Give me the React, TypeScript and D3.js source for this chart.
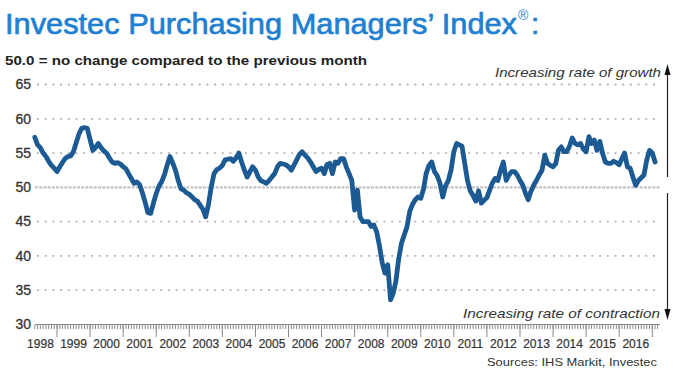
import React from 'react';
import * as d3 from 'd3';

// Monthly PMI readings (May 1998 – Feb 2017)
const pmi1998 = [57.3, 56.2, 55.8, 55.0, 54.5, 53.8, 53.2, 52.8];
const pmi1999 = [52.3, 53.0, 53.6, 54.2, 54.5, 54.6, 55.2, 56.5, 57.8, 58.6, 58.7, 58.6];
const pmi2000 = [57.0, 55.4, 55.8, 56.4, 55.8, 55.3, 55.0, 54.3, 53.7, 53.5, 53.6, 53.4];
const pmi2001 = [53.0, 52.7, 52.0, 51.3, 50.6, 50.8, 50.4, 49.2, 47.8, 46.3, 46.2, 47.7];
const pmi2002 = [49.1, 50.2, 50.8, 51.8, 53.2, 54.5, 53.6, 52.5, 51.0, 49.8, 49.6, 49.2];
const pmi2003 = [49.0, 48.6, 48.2, 48.0, 47.4, 46.8, 45.7, 47.5, 50.1, 52.0, 52.6, 52.8];
const pmi2004 = [53.2, 54.0, 54.1, 54.2, 53.8, 54.3, 55.0, 53.7, 52.5, 51.5, 52.3, 53.0];
const pmi2005 = [52.5, 51.5, 51.0, 50.8, 50.6, 51.0, 51.5, 52.0, 53.0, 53.5, 53.4, 53.3];
const pmi2006 = [53.0, 52.5, 53.2, 54.0, 54.8, 55.2, 54.7, 54.3, 53.7, 53.0, 52.3, 52.6];
const pmi2007 = [52.8, 52.0, 53.3, 53.5, 52.0, 53.7, 53.5, 54.2, 54.2, 53.0, 52.0, 51.0];
const pmi2008 = [46.7, 49.6, 45.7, 45.0, 45.0, 45.0, 44.3, 44.5, 43.5, 41.5, 39.0, 37.5];
const pmi2009 = [38.7, 33.6, 34.5, 36.3, 39.5, 41.8, 43.0, 44.2, 46.5, 47.5, 48.2, 48.6];
const pmi2010 = [48.4, 49.8, 52.0, 53.2, 53.7, 52.3, 51.7, 50.6, 48.6, 50.2, 51.0, 52.5];
const pmi2011 = [55.2, 56.4, 56.2, 56.0, 53.5, 51.0, 49.5, 48.8, 48.0, 49.5, 47.7, 48.1];
const pmi2012 = [48.5, 49.6, 50.6, 51.3, 51.0, 52.5, 53.7, 51.0, 51.8, 52.3, 52.3, 51.8];
const pmi2013 = [51.0, 50.3, 49.2, 48.2, 49.4, 50.3, 51.0, 51.8, 52.5, 54.7, 53.5, 53.2];
const pmi2014 = [53.0, 53.5, 55.4, 55.9, 55.2, 55.2, 56.0, 57.2, 56.4, 56.2, 56.4, 55.6];
const pmi2015 = [55.2, 57.4, 56.4, 56.9, 55.4, 56.7, 55.0, 53.7, 53.5, 53.5, 53.8, 53.6];
const pmi2016 = [53.3, 54.2, 55.0, 53.0, 52.8, 51.5, 50.3, 51.0, 51.4, 51.8, 54.0, 55.4];
const pmi2017 = [55.0, 53.7];

const seriesByYear = [
  pmi1998, pmi1999, pmi2000, pmi2001, pmi2002, pmi2003, pmi2004, pmi2005, pmi2006,
  pmi2007, pmi2008, pmi2009, pmi2010, pmi2011, pmi2012, pmi2013, pmi2014, pmi2015,
  pmi2016, pmi2017,
];

const yTicks = [30, 35, 40, 45, 50, 55, 60, 65];
const yearLabels = [
  '1998', '1999', '2000', '2001', '2002', '2003', '2004', '2005', '2006', '2007',
  '2008', '2009', '2010', '2011', '2012', '2013', '2014', '2015', '2016',
];

export default function App() {
  const firstMonth = new Date(1998, 4, 1);
  const values = seriesByYear.flat();
  const data = values.map((v, i) => ({ date: d3.timeMonth.offset(firstMonth, i), v }));

  const x = d3.scaleTime()
    .domain([new Date(1999, 0, 1), new Date(2017, 0, 1)])
    .range([57, 652.3]);
  const y = d3.scaleLinear().domain([30, 65]).range([324.5, 84.5]);

  const line = d3.line<{ date: Date; v: number }>()
    .x(d => x(d.date))
    .y(d => y(d.v));

  const plotLeft = 35;
  const plotRight = 660;
  const axisY = y(30);

  const monthTicks = d3.timeMonth.range(new Date(1998, 4, 1), new Date(2017, 3, 1));
  const yearTicks = d3.timeYear.range(new Date(1999, 0, 1), new Date(2017, 0, 2));

  const font = 'Liberation Sans, Arial, sans-serif';
  const titleColor = '#1f7fd0';

  return (
    <svg width={680} height={375} style={{ position: 'absolute', left: 0, top: 0, background: '#fff' }}
      fontFamily={font}>
      <rect x={0} y={0} width={680} height={375} fill="#fff" />
      {/* Title */}
      <text x={5} y={34} fontSize={30} fill={titleColor} stroke={titleColor} strokeWidth={0.7}
        textLength={512} lengthAdjust="spacingAndGlyphs">
        Investec Purchasing Managers’ Index
      </text>
      <text x={518} y={20} fontSize={14} fill={titleColor}>®</text>
      <text x={531} y={34} fontSize={30} fill={titleColor} stroke={titleColor} strokeWidth={0.7}>:</text>
      {/* Subtitle */}
      <text x={5} y={65} fontSize={12.5} fontWeight="bold" fill="#222"
        textLength={362} lengthAdjust="spacingAndGlyphs">
        50.0 = no change compared to the previous month
      </text>

      {/* Gridlines */}
      {yTicks.filter(t => t !== 30).map(t => (
        t === 50 ? (
          <line key={t} x1={plotLeft} x2={plotRight} y1={y(t)} y2={y(t)}
            stroke="#c4c4c4" strokeWidth={2.2} strokeDasharray="3,1.2" />
        ) : (
          <line key={t} x1={plotLeft + 2} x2={plotRight} y1={y(t)} y2={y(t)}
            stroke="#b4b4b4" strokeWidth={1.8} strokeDasharray="2,5.7" />
        )
      ))}

      {/* Y labels */}
      {yTicks.map(t => (
        <text key={t} x={31} y={y(t) + 4.8} fontSize={14} textAnchor="end" fill="#333"
          stroke="#333" strokeWidth={0.3}>{t}</text>
      ))}

      {/* X axis */}
      <line x1={plotLeft} x2={plotRight} y1={axisY} y2={axisY} stroke="#8a8a8a" strokeWidth={1} />
      {monthTicks.map((d, i) => (
        <line key={'m' + i} x1={x(d)} x2={x(d)} y1={axisY} y2={axisY + 4.5} stroke="#8a8a8a" strokeWidth={1} />
      ))}
      {yearTicks.map((d, i) => (
        <line key={'y' + i} x1={x(d)} x2={x(d)} y1={axisY} y2={axisY + 12.5} stroke="#8a8a8a" strokeWidth={1} />
      ))}
      {yearLabels.map(lbl => {
        const yr = +lbl;
        const mid = (x(new Date(yr, 0, 1)) + x(new Date(yr + 1, 0, 1))) / 2;
        return (
          <text key={lbl} x={mid} y={348} fontSize={12} textAnchor="middle" fill="#333"
            stroke="#333" strokeWidth={0.2}>{lbl}</text>
        );
      })}

      {/* Series */}
      <path d={line(data) || ''} fill="none" stroke="#1c5a94" strokeWidth={4.8}
        strokeLinejoin="round" strokeLinecap="round" />

      {/* Arrows & annotations */}
      <line x1={667.5} x2={667.5} y1={72} y2={177} stroke="#222" strokeWidth={1.2} />
      <path d="M664.5,75 L667.5,64 L670.5,75 Z" fill="#111" />
      <line x1={667.5} x2={667.5} y1={193} y2={312} stroke="#222" strokeWidth={1.2} />
      <path d="M664.5,309 L667.5,320 L670.5,309 Z" fill="#111" />
      <text x={495} y={77} fontSize={13} fontStyle="italic" fill="#333"
        textLength={166} lengthAdjust="spacingAndGlyphs">
        Increasing rate of growth
      </text>
      <text x={463} y={318} fontSize={13.5} fontStyle="italic" fill="#333"
        textLength={197} lengthAdjust="spacingAndGlyphs">
        Increasing rate of contraction
      </text>
      <text x={487} y={366} fontSize={11.5} fill="#333"
        textLength={170} lengthAdjust="spacingAndGlyphs">
        Sources: IHS Markit, Investec
      </text>
    </svg>
  );
}
